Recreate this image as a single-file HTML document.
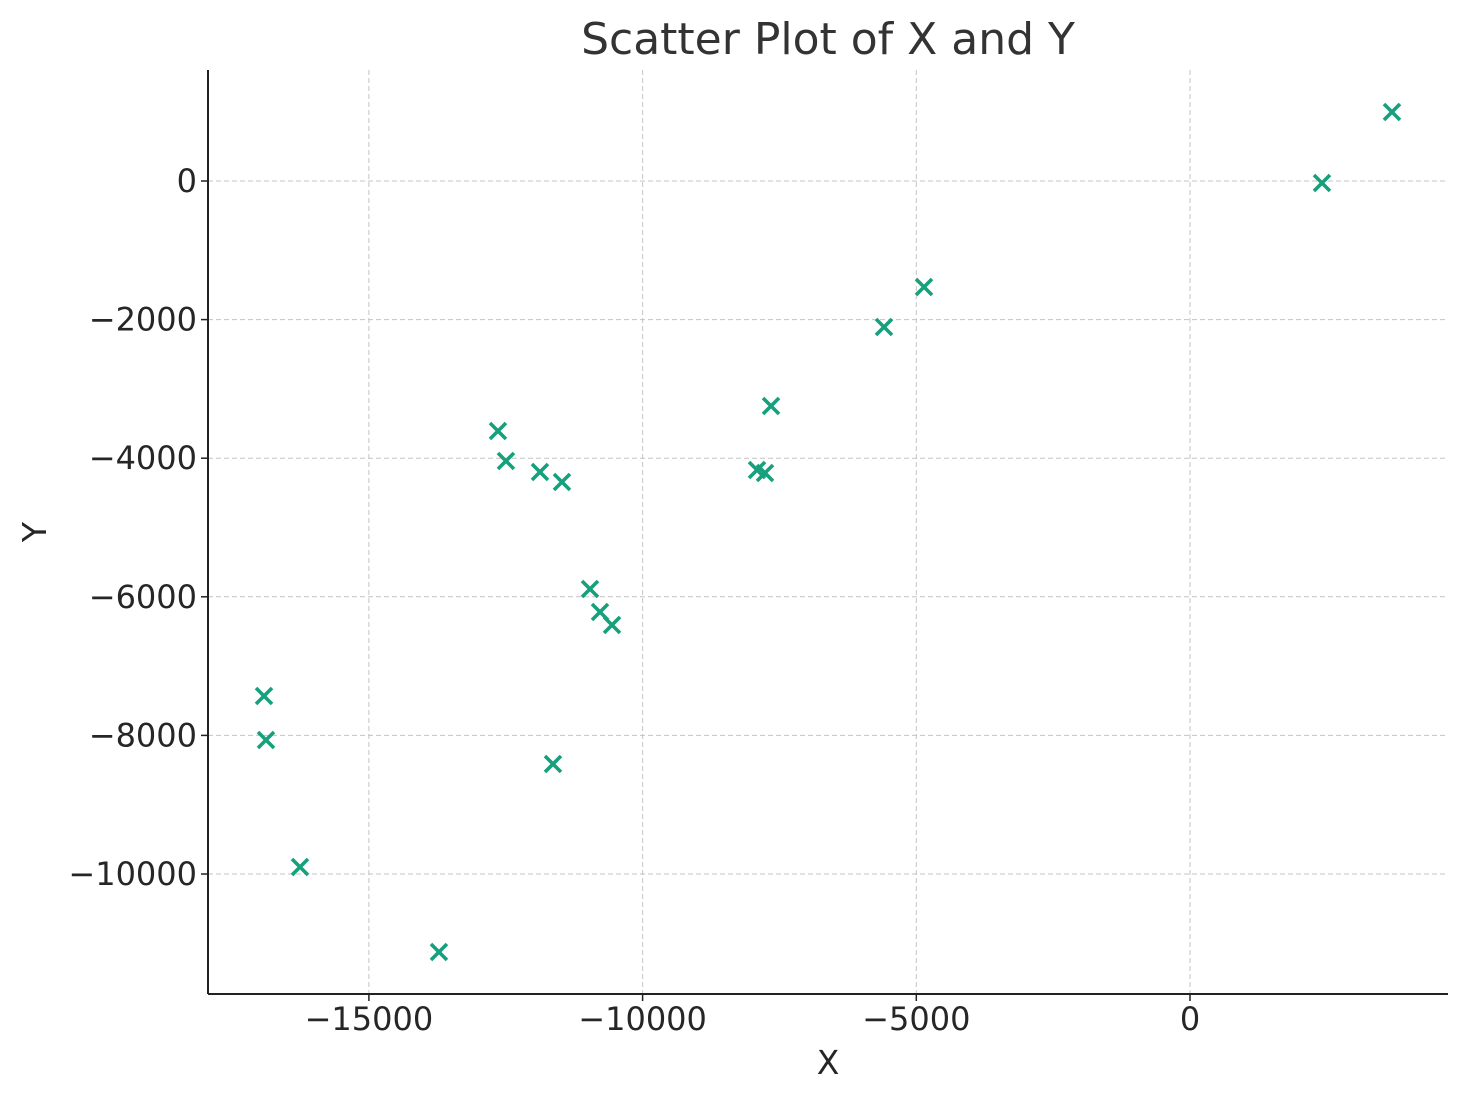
<!DOCTYPE html>
<html><head><meta charset="utf-8"><style>
body{margin:0;background:#fff}
svg text{font-family:"DejaVu Sans","Liberation Sans",sans-serif;fill:#262626}
</style></head><body>
<svg id="chart" width="1468" height="1101" xmlns="http://www.w3.org/2000/svg">
<rect width="1468" height="1101" fill="#fff"/>
<text x="828" y="54" style="font-size:44px;fill:#333" text-anchor="middle">Scatter Plot of X and Y</text>
<g id="grid"></g><g id="ticks"></g><g id="points"></g>
<line x1="208" y1="70" x2="208" y2="994" stroke="#222" stroke-width="2"/>
<line x1="208" y1="994" x2="1448" y2="994" stroke="#222" stroke-width="2"/>
<text x="828" y="1074" style="font-size:33px" text-anchor="middle">X</text>
<text x="46" y="532" style="font-size:33px" text-anchor="middle" transform="rotate(-90 46 532)">Y</text>
</svg>
<script>
const xValues=[-16916,-16880,-16259,-13720,-12642,-12496,-11875,-11473,-11637,-10961,-10778,-10559,-7910,-7764,-7654,-5590,-4859,2411,3690];
const yValues=[-7431,-8066,-9899,-11126,-3608,-4040,-4199,-4343,-8413,-5887,-6219,-6407,-4170,-4213,-3247,-2107,-1530,-29,996];
const xTicks=[-15000,-10000,-5000,0];
const yTicks=[0,-2000,-4000,-6000,-8000,-10000];
const NS="http://www.w3.org/2000/svg";
function sx(v){return 1190+v*0.05474;}
function sy(v){return 181-v*0.0693;}
function mk(t,a,p){const e=document.createElementNS(NS,t);for(const k in a)e.setAttribute(k,a[k]);p.appendChild(e);return e;}
const grid=document.getElementById('grid'),ticks=document.getElementById('ticks'),pts=document.getElementById('points');
xTicks.forEach(v=>{const x=sx(v);
const g=mk('line',{x1:x,y1:70,x2:x,y2:994,stroke:'#c4c4c4','stroke-dasharray':'5,3'},grid);


mk('line',{x1:x,y1:994,x2:x,y2:1001,stroke:'#222','stroke-width':1.5},ticks);
const t=mk('text',{x:x,y:1030,style:'font-size:32px','text-anchor':'middle'},ticks);
t.textContent=v<0?'\u2212'+Math.abs(v):String(v);

});
yTicks.forEach(v=>{const y=sy(v);
const g=mk('line',{x1:208,y1:y,x2:1448,y2:y,stroke:'#c4c4c4','stroke-dasharray':'5,3'},grid);


mk('line',{x1:201,y1:y,x2:208,y2:y,stroke:'#222','stroke-width':1.5},ticks);
const t=mk('text',{x:197,y:y+11,style:'font-size:32px','text-anchor':'end'},ticks);
t.textContent=v<0?'\u2212'+Math.abs(v):String(v);

});
xValues.forEach((xv,i)=>{const x=sx(xv),y=sy(yValues[i]),s=8;
const p=mk('path',{d:`M${x-s},${y-s}L${x+s},${y+s}M${x-s},${y+s}L${x+s},${y-s}`,stroke:'#16a07c','stroke-width':3.6,fill:'none'},pts);

});
</script>
</body></html>
